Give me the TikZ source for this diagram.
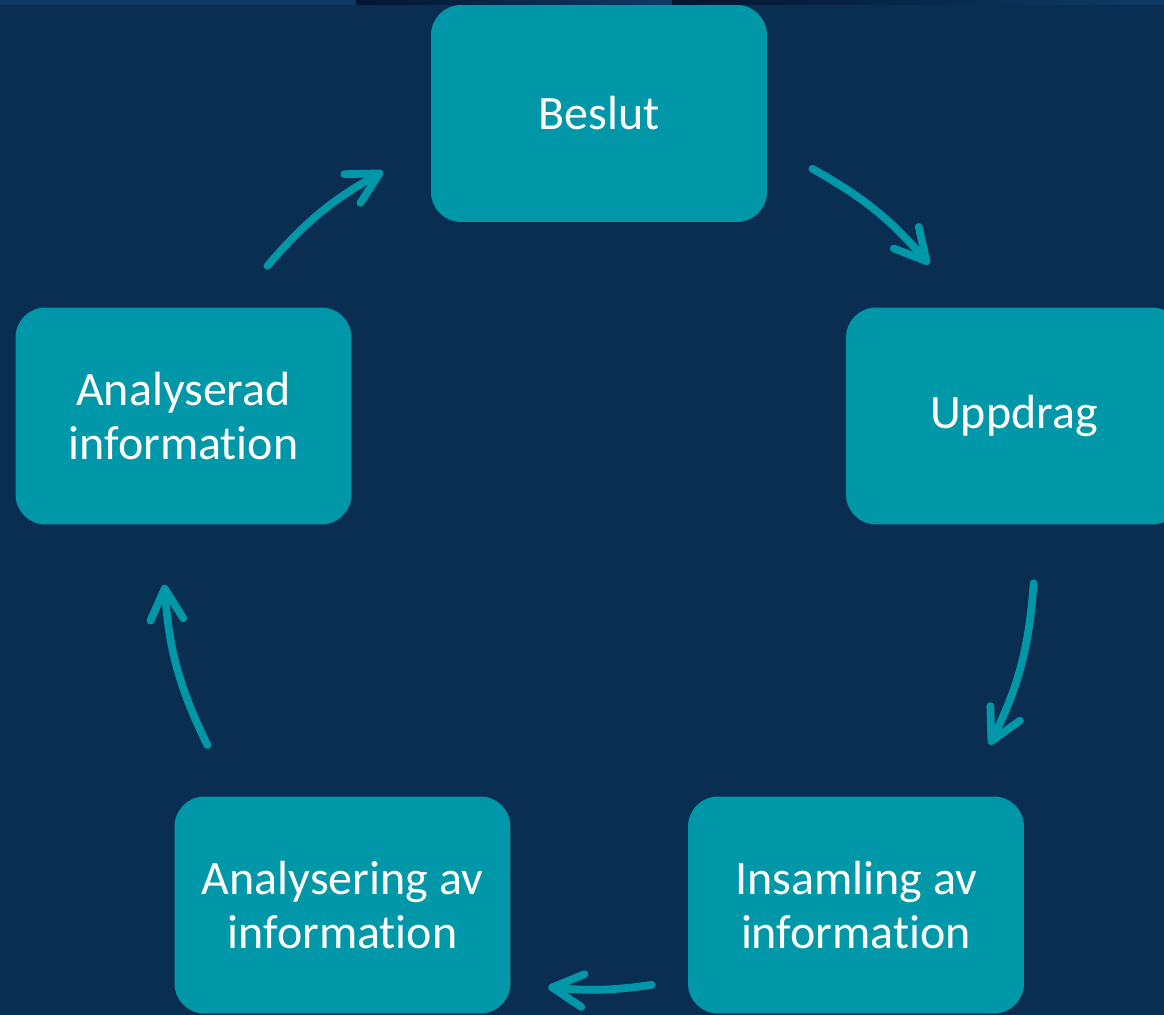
\documentclass[tikz,border=0pt]{standalone}
\usepackage{fontspec}
\setmainfont{Carlito}[Ligatures=NoCommon]
\usetikzlibrary{arrows.meta,calc}

\definecolor{navy}{HTML}{0A2E52}
\definecolor{stripblue}{HTML}{0E3B66}
\definecolor{stripdark}{HTML}{021530}
\definecolor{teal}{HTML}{0098A8}

\begin{document}
\begin{tikzpicture}[x=0.02cm, y=0.02cm, align=center]

    % Styles
    \tikzstyle{stage} = [rectangle, rounded corners=0.6cm, fill=teal, minimum width=6.72cm, minimum height=4.34cm, text=white, text centered, font=\fontsize{27.3}{30.5}\selectfont]
    \tikzstyle{arrow} = [draw=teal, line width=4.4pt, line cap=round, -{Straight Barb[length=0.62cm, width=0.66cm, line cap=round, line join=round]}]

    % Background
    \useasboundingbox (0,0) rectangle (1164,1015);
    \clip (0,0) rectangle (1164,1015);
    \fill[navy] (0,0) rectangle (1164,1015);
    \fill[stripblue] (0,1010) rectangle (1164,1015);
    \shade[left color=stripdark, right color=stripblue] (356,1010) rectangle (670,1015);
    \shade[left color=stripdark, right color=stripblue] (672,1010) rectangle (1160,1015);

    % Stages
    \node[stage] (beslut) at (599,901.5) {Beslut};
    \node[stage] (uppdrag) at (1014,599) {Uppdrag};
    \node[stage] (insamling) at (856,110) {Insamling av\\information};
    \node[stage] (analysering) at (342.5,110) {Analysering av\\information};
    \node[stage] (analyserad) at (183.5,599) {Analyserad\\information};

    % Arc ends
    \coordinate (centre) at (599,466);
    \coordinate (beslut_out) at ($(centre)+(60.7:436)$);
    \coordinate (uppdrag_in) at ($(centre)+(40.8:436)$);
    \coordinate (uppdrag_out) at ($(centre)+(-4.5:436)$);
    \coordinate (insamling_in) at ($(centre)+(-26.6:437)$);
    \coordinate (insamling_out) at ($(centre)+(-83.1:439)$);
    \coordinate (analysering_in) at ($(centre)+(-96.6:441)$);
    \coordinate (analysering_out) at ($(centre)+(206.6:438)$);
    \coordinate (analyserad_in) at ($(centre)+(184.7:436)$);
    \coordinate (analyserad_out) at ($(centre)+(139.5:436)$);
    \coordinate (beslut_in) at ($(centre)+(119.8:435)$);

    % Arrows
    \draw[arrow] (beslut_out) to[bend left=10] (uppdrag_in);
    \draw[arrow] (uppdrag_out) to[bend left=11] (insamling_in);
    \draw[arrow] (insamling_out) to[bend left=7] (analysering_in);
    \draw[arrow] (analysering_out) to[bend left=11] (analyserad_in);
    \draw[arrow] (analyserad_out) to[bend left=10] (beslut_in);

\end{tikzpicture}
\end{document}
